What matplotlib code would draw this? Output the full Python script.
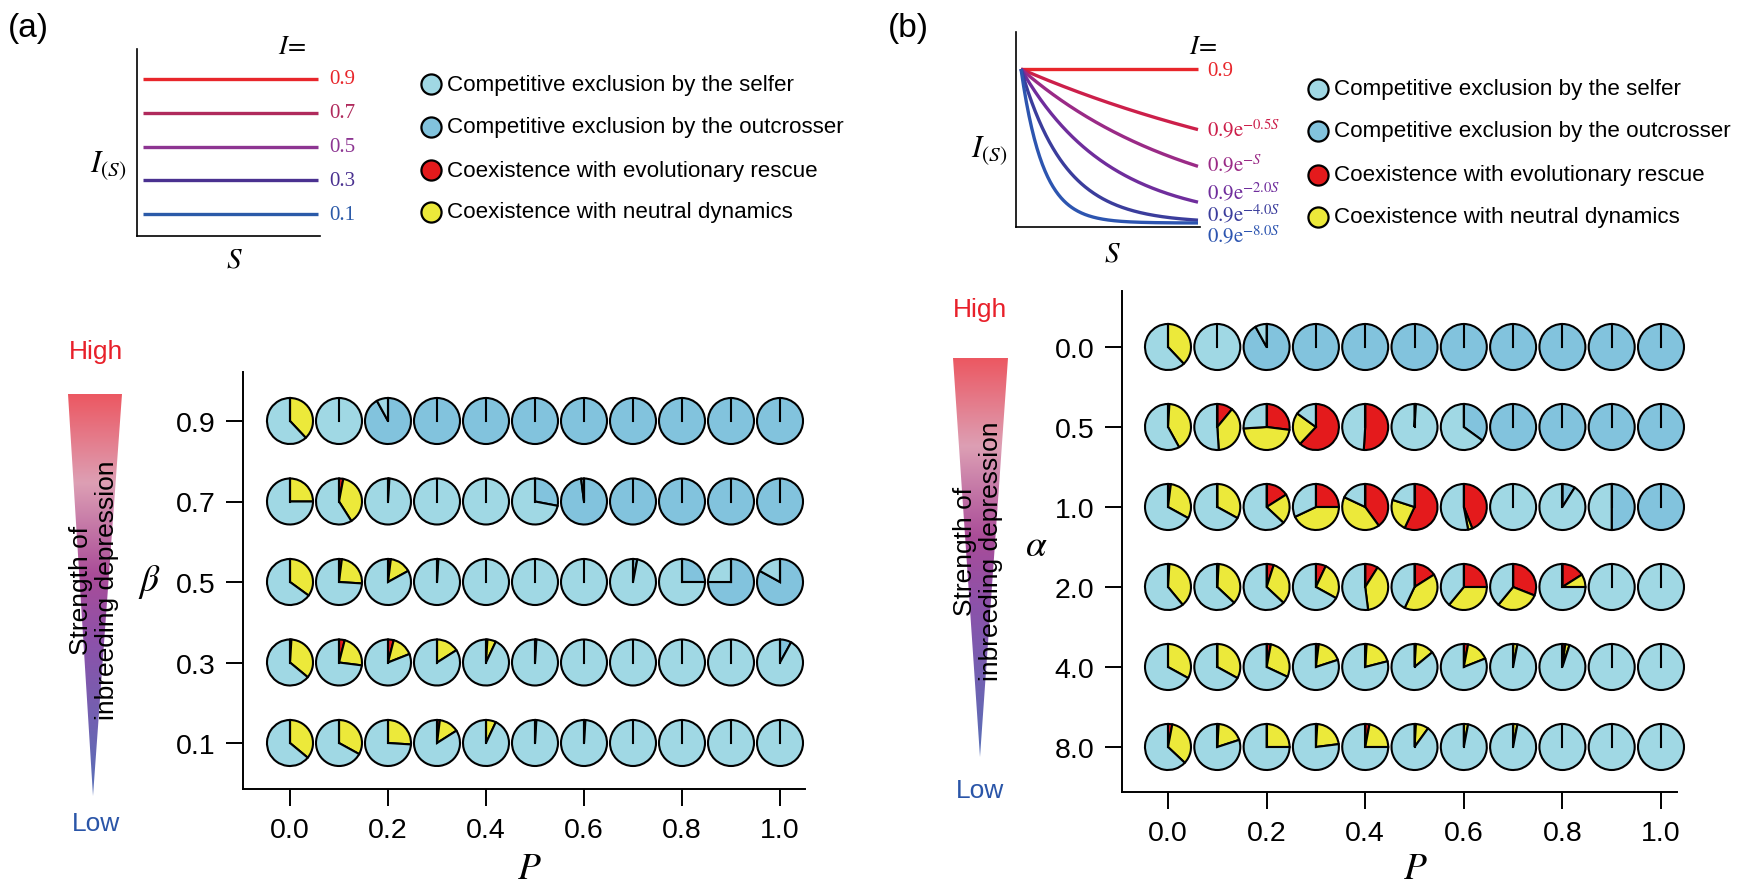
import numpy as np
import matplotlib
matplotlib.use("Agg")
import matplotlib.pyplot as plt
import matplotlib.transforms as mtransforms
from matplotlib.patches import Wedge, Circle, Polygon
from matplotlib.lines import Line2D
from matplotlib.colors import LinearSegmentedColormap

plt.rcParams['font.family'] = ['Liberation Sans', 'DejaVu Sans']
plt.rcParams['mathtext.fontset'] = 'stix'

W, H = 1747, 887

# ---------------- data ----------------
P_vals = [0.0, 0.1, 0.2, 0.3, 0.4, 0.5, 0.6, 0.7, 0.8, 0.9, 1.0]
P_ticks = [0.0, 0.2, 0.4, 0.6, 0.8, 1.0]
beta_vals = [0.9, 0.7, 0.5, 0.3, 0.1]
alpha_labels = ['0.0', '0.5', '1.0', '2.0', '4.0', '8.0']

I_const = [0.9, 0.7, 0.5, 0.3, 0.1]
I_const_colors = ['#e8262b', '#b02a5c', '#8d3592', '#4a3190', '#2b5aa8']
decay_rates = [0.0, 0.5, 1.0, 2.0, 4.0, 8.0]
decay_labels = ['0.9', r'$0.9\mathrm{e}^{-0.5S}$', r'$0.9\mathrm{e}^{-S}$',
                r'$0.9\mathrm{e}^{-2.0S}$', r'$0.9\mathrm{e}^{-4.0S}$', r'$0.9\mathrm{e}^{-8.0S}$']
decay_colors = ['#e8262b', '#cc1f4a', '#9a2a86', '#6f2d9c', '#3b3d9c', '#2d55b0']

outcomes = ['Competitive exclusion by the selfer',
            'Competitive exclusion by the outcrosser',
            'Coexistence with evolutionary rescue',
            'Coexistence with neutral dynamics']
c_selfer, c_outcross, c_rescue, c_neutral = '#a0d8e4', '#82c3dd', '#e41a1c', '#ece93a'

# panel (a): rows = beta (0.9 ... 0.1), cols = P
a_rescue = [
    [0, 0, 0, 0, 0, 0, 0, 0, 0, 0, 0],
    [0, 0.03, 0, 0, 0, 0, 0, 0, 0, 0, 0],
    [0, 0.02, 0.02, 0, 0, 0, 0, 0, 0, 0, 0],
    [0.01, 0.04, 0.04, 0, 0.01, 0, 0, 0, 0, 0, 0],
    [0, 0, 0, 0.02, 0, 0.01, 0, 0, 0, 0, 0],
]
a_neutral = [
    [0.38, 0, 0, 0, 0, 0, 0, 0, 0, 0, 0],
    [0.25, 0.38, 0.01, 0, 0, 0, 0, 0, 0, 0, 0],
    [0.35, 0.24, 0.15, 0.01, 0, 0, 0, 0, 0, 0, 0],
    [0.35, 0.23, 0.15, 0.16, 0.06, 0.01, 0, 0, 0, 0, 0],
    [0.36, 0.33, 0.26, 0.14, 0.07, 0, 0.01, 0, 0, 0, 0],
]
a_outcross = [
    [0, 0, 0.92, 1, 1, 1, 1, 1, 1, 1, 1],
    [0, 0, 0, 0, 0, 0.28, 0.98, 1, 1, 1, 1],
    [0, 0, 0, 0, 0, 0, 0, 0.03, 0.25, 0.75, 0.83],
    [0, 0, 0, 0, 0, 0, 0, 0, 0, 0, 0.08],
    [0, 0, 0, 0, 0, 0, 0, 0, 0, 0, 0],
]

# panel (b): rows = alpha (0.0 ... 8.0), cols = P
b_rescue = [
    [0, 0, 0, 0, 0, 0, 0, 0, 0, 0, 0],
    [0.01, 0.11, 0.27, 0.62, 0.51, 0.01, 0, 0, 0, 0, 0],
    [0.02, 0, 0.16, 0.25, 0.40, 0.57, 0.44, 0, 0, 0, 0],
    [0.01, 0.01, 0.05, 0.07, 0.09, 0.16, 0.25, 0.31, 0.16, 0, 0],
    [0, 0, 0.03, 0.02, 0.01, 0.01, 0.03, 0, 0.02, 0, 0],
    [0.03, 0.01, 0, 0.01, 0.03, 0.01, 0, 0, 0, 0, 0],
]
b_neutral = [
    [0.38, 0, 0, 0, 0, 0, 0, 0, 0, 0, 0],
    [0.41, 0.38, 0.47, 0.23, 0, 0, 0, 0, 0, 0, 0],
    [0.31, 0.33, 0.21, 0.43, 0.42, 0.23, 0.03, 0, 0, 0, 0],
    [0.38, 0.36, 0.32, 0.26, 0.39, 0.41, 0.36, 0.30, 0.09, 0, 0],
    [0.33, 0.33, 0.29, 0.18, 0.20, 0.13, 0.16, 0.03, 0.03, 0, 0],
    [0.34, 0.19, 0.25, 0.22, 0.22, 0.09, 0.03, 0.03, 0, 0, 0],
]
b_outcross = [
    [0, 0, 0.92, 1, 1, 1, 1, 1, 1, 1, 1],
    [0, 0, 0, 0, 0, 0, 0.35, 1, 1, 1, 1],
    [0, 0, 0, 0, 0, 0, 0, 0, 0.09, 0.5, 1],
    [0, 0, 0, 0, 0, 0, 0, 0, 0, 0, 0],
    [0, 0, 0, 0, 0, 0, 0, 0, 0, 0, 0],
    [0, 0, 0, 0, 0, 0, 0, 0, 0, 0, 0],
]

# ---------------- layout helpers (pixels, y down) ----------------
fig = plt.figure(figsize=(W / 100, H / 100), dpi=100)
PIE_R = 23  # px


def box(x0, y0, x1, y1):
    return [x0 / W, 1 - y1 / H, (x1 - x0) / W, (y1 - y0) / H]


def lims(p0, v0, p1, v1, lo, hi):
    # linear map pixel -> data from two anchors
    s = (v1 - v0) / (p1 - p0)
    return v0 + (lo - p0) * s, v0 + (hi - p0) * s


def style_axes(ax):
    for s in ['top', 'right']:
        ax.spines[s].set_visible(False)
    for s in ['left', 'bottom']:
        ax.spines[s].set_linewidth(1.4)
    ax.tick_params(direction='out', length=12.5, width=1.4, labelsize=20.5, pad=7.5)


def draw_pies(ax, xs, ys, rescue, neutral, outcross):
    r = PIE_R / fig.dpi
    for i, y in enumerate(ys):
        for j, x in enumerate(xs):
            fr = [rescue[i][j], neutral[i][j], outcross[i][j]]
            fr.append(max(0.0, 1 - sum(fr)))
            trans = fig.dpi_scale_trans + mtransforms.ScaledTranslation(x, y, ax.transData)
            start = 90.0
            for f, col in zip(fr, [c_rescue, c_neutral, c_outcross, c_selfer]):
                if f <= 0:
                    continue
                if f >= 0.999:
                    p = Circle((0, 0), r, facecolor=col, edgecolor='black', lw=1.5,
                               transform=trans, clip_on=False)
                else:
                    end = start - 360 * f
                    p = Wedge((0, 0), r, end, start, facecolor=col, edgecolor='black',
                              lw=1.5, transform=trans, clip_on=False)
                    start = end
                ax.add_patch(p)
            ax.add_line(Line2D([0, 0], [0, r], color='black', lw=1.5,
                               transform=trans, clip_on=False))


# ---------------- panel (a) main ----------------
ax_a = fig.add_axes(box(243, 373, 805, 790))
ax_a.set_xlim(*lims(290, 0.0, 780, 1.0, 243, 805))
ax_a.set_ylim(*lims(744, 0.1, 422, 0.9, 790, 373))
ax_a.set_autoscale_on(False)
style_axes(ax_a)
ax_a.set_xticks(P_ticks)
ax_a.set_xticklabels([f'{p:.1f}' for p in P_ticks])
ax_a.set_yticks(beta_vals)
ax_a.set_yticklabels([f'{b:.1f}' for b in beta_vals])
ax_a.set_xlabel(r'$P$', fontsize=27, va='center')
ax_a.xaxis.set_label_coords(0.509, -0.189)
ax_a.set_ylabel(r'$\beta$', fontsize=27, rotation=0, va='center', ha='center')
ax_a.yaxis.set_label_coords(-0.167, 0.499)
draw_pies(ax_a, P_vals, beta_vals, a_rescue, a_neutral, a_outcross)

# ---------------- panel (b) main ----------------
rows_b = list(range(len(alpha_labels)))
ax_b = fig.add_axes(box(1122, 292, 1677, 793))
ax_b.set_xlim(*lims(1168, 0.0, 1661, 1.0, 1122, 1677))
ax_b.set_ylim(*lims(348, 0, 748, 5, 793, 292))
ax_b.set_autoscale_on(False)
style_axes(ax_b)
ax_b.set_xticks(P_ticks)
ax_b.set_xticklabels([f'{p:.1f}' for p in P_ticks])
ax_b.set_yticks(rows_b)
ax_b.set_yticklabels(alpha_labels)
ax_b.set_xlabel(r'$P$', fontsize=27, va='center')
ax_b.xaxis.set_label_coords(0.528, -0.152)
ax_b.set_ylabel(r'$\alpha$', fontsize=27, rotation=0, va='center', ha='center')
ax_b.yaxis.set_label_coords(-0.155, 0.493)
draw_pies(ax_b, P_vals, rows_b, b_rescue, b_neutral, b_outcross)

# ---------------- inset (a) ----------------
S = np.linspace(0, 1, 200)
ia = fig.add_axes(box(137, 50, 320, 237))
ia.set_xlim(*lims(143, 0.0, 318, 1.0, 137, 320))
ia.set_ylim(*lims(215, 0.1, 80, 0.9, 237, 50))
for I, col in zip(I_const, I_const_colors):
    ia.plot(S, np.full_like(S, I), color=col, lw=2.4, solid_capstyle='butt')
    ia.annotate(f'{I}', xy=(1, I), xytext=(8, 0), textcoords='offset points',
                color=col, fontsize=15, family='Liberation Serif', va='center', ha='left')
for s in ['top', 'right']:
    ia.spines[s].set_visible(False)
for s in ['left', 'bottom']:
    ia.spines[s].set_linewidth(1.2)
ia.set_xticks([])
ia.set_yticks([])

# ---------------- inset (b) ----------------
ib = fig.add_axes(box(1016, 33, 1200, 228))
ib.set_xlim(*lims(1021, 0.0, 1198, 1.0, 1016, 1200))
ib.set_ylim(*lims(224, 0.0, 70, 0.9, 228, 33))
for k, col in zip(decay_rates, decay_colors):
    ib.plot(S, 0.9 * np.exp(-k * S), color=col, lw=2.4, solid_capstyle='butt')
for s in ['top', 'right']:
    ib.spines[s].set_visible(False)
for s in ['left', 'bottom']:
    ib.spines[s].set_linewidth(1.2)
ib.set_xticks([])
ib.set_yticks([])

# ---------------- overlay (pixel coordinates) ----------------
ov = fig.add_axes([0, 0, 1, 1])
ov.set_xlim(0, W)
ov.set_ylim(H, 0)
ov.axis('off')

serif = 'Liberation Serif'
ov.text(28, 29, '(a)', fontsize=24, ha='center', va='center')
ov.text(908, 29, '(b)', fontsize=24, ha='center', va='center')

ov.text(292, 47, r'$I\!=$', fontsize=19, ha='center', va='center')
ov.text(108, 166, r'$I_{(S)}$', fontsize=22, ha='center', va='center')
ov.text(234, 260, r'$S$', fontsize=21, ha='center', va='center')

ov.text(1203, 47, r'$I\!=$', fontsize=19, ha='center', va='center')
ov.text(989, 151, r'$I_{(S)}$', fontsize=22, ha='center', va='center')
ov.text(1112, 254, r'$S$', fontsize=21, ha='center', va='center')
decay_label_y = [72, 130, 165, 193, 215, 236]
for lab, col, y in zip(decay_labels, decay_colors, decay_label_y):
    ov.text(1207, y, lab, color=col, fontsize=15, family=serif, ha='left', va='center')

# legends
legend_colors = [c_selfer, c_outcross, c_rescue, c_neutral]
for cx, tx, ys in [(431, 447, [85, 128, 171, 213]), (1318, 1334, [90, 132, 176, 218])]:
    for name, col, y in zip(outcomes, legend_colors, ys):
        ov.scatter([cx], [y], s=210, color=col, edgecolors='black', linewidths=1.6, zorder=3)
        ov.text(tx, y, name, fontsize=16.1, ha='left', va='center')

# gradient triangles
tri_cmap = LinearSegmentedColormap.from_list(
    'id', [(0.0, '#ec5862'), (0.22, '#dd9fb4'), (0.45, '#a94c98'),
           (0.62, '#8c52aa'), (1.0, '#5870b8')])
grad = np.linspace(0, 1, 256).reshape(-1, 1)
for (x0, x1, ytop, xt, yb) in [(68, 122, 395, 93, 797), (953, 1008, 359, 980, 758)]:
    im = ov.imshow(grad, cmap=tri_cmap, extent=(x0, x1, yb, ytop), origin='upper',
                   aspect='auto', interpolation='bilinear')
    tri = Polygon([(x0, ytop), (x1, ytop), (xt, yb)], closed=True, transform=ov.transData)
    im.set_clip_path(tri)
ov.set_xlim(0, W)
ov.set_ylim(H, 0)

for (x, yh, yl, ym) in [(96, 352, 824, 590), (980, 310, 791, 551)]:
    ov.text(x, yh, 'High', color='#e8202a', fontsize=19, ha='center', va='center')
    ov.text(x, yl, 'Low', color='#2a55a8', fontsize=19, ha='center', va='center')
    ov.text(x - 2, ym, 'Strength of\ninbreeding depression', fontsize=19, rotation=90,
            ha='center', va='center', multialignment='center', linespacing=1.1)

fig.savefig('out.png', dpi=100)
